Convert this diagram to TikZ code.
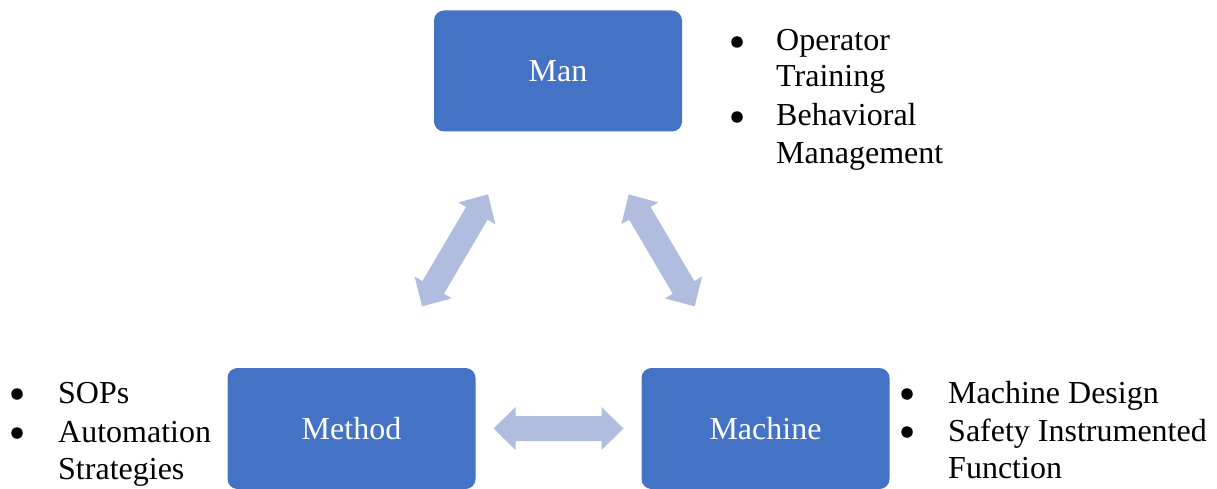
\documentclass[tikz,border=0pt]{standalone}
\usepackage{fontspec}
\setmainfont{Liberation Serif}
\usetikzlibrary{calc}
\definecolor{boxblue}{HTML}{4472C4}
\definecolor{arrowblue}{HTML}{B0BDDF}
\begin{document}
\begin{tikzpicture}[x=1pt,y=-1pt,
  box/.style={fill=boxblue,rounded corners=10pt,minimum width=248pt,minimum height=121pt,
    text=white,font=\fontsize{32}{38}\selectfont,inner sep=0pt},
  item/.style={anchor=base west,inner sep=0pt,font=\fontsize{32}{38}\selectfont},
  bul/.style={circle,fill=black,inner sep=0pt,minimum size=11.5pt},
  dblarr/.pic={\fill[arrowblue] (-65,0) -- (-43,21.5) -- (-43,12.5) -- (43,12.5) -- (43,21.5)
     -- (65,0) -- (43,-21.5) -- (43,-12.5) -- (-43,-12.5) -- (-43,-21.5) -- cycle;}
]
\useasboundingbox (0,0) rectangle (1217,489);
% boxes
\node[box] (man) at (558,71) {Man};
\node[box] (method) at (351.5,428.5) {Method};
\node[box] (machine) at (765.5,428.5) {Machine};
% arrows
\pic[rotate=59.5] (a1) at (455,250.4) {dblarr};
\pic[rotate=-59.5] (a2) at (661.7,250.4) {dblarr};
\pic (a3) at ($(method.east)!0.5!(machine.west)$) {dblarr};
% top-right list
\node[bul] (b1) at (737,42) {};
\node[item] (t1) at (776,51) {Operator};
\node[item] (t2) at (776,87) {Training};
\node[bul] (b2) at (737,117) {};
\node[item] (t3) at (776,126) {Behavioral};
\node[item] (t4) at (776,164) {Management};
% bottom-left list
\node[bul] (b3) at (17,394) {};
\node[item] (l1) at (58,403) {SOPs};
\node[bul] (b4) at (17,433) {};
\node[item] (l2) at (58,442) {Automation};
\node[item] (l3) at (58,479) {Strategies};
% bottom-right list
\node[bul] (b5) at (907,394) {};
\node[item] (r1) at (948,403) {Machine Design};
\node[bul] (b6) at (907,432) {};
\node[item] (r2) at (948,441) {Safety Instrumented};
\node[item] (r3) at (948,478) {Function};
\end{tikzpicture}
\end{document}
